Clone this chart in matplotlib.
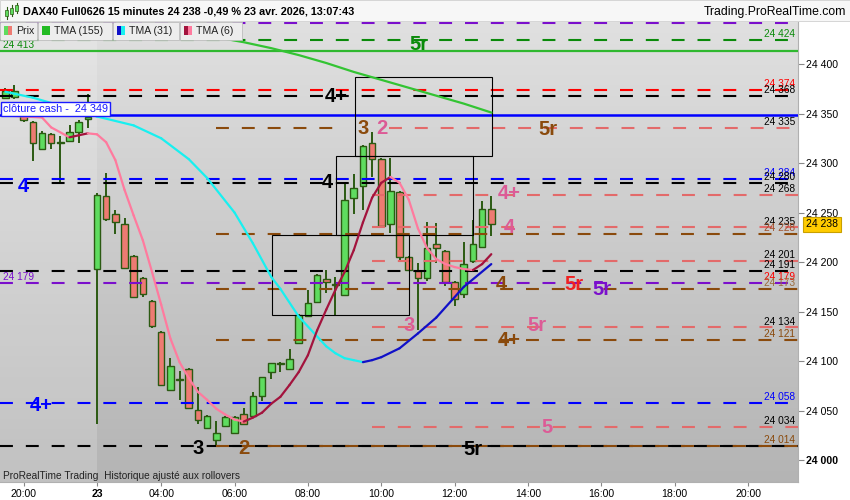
import numpy as np
import matplotlib.pyplot as plt
from matplotlib.patches import Rectangle
from matplotlib.colors import LinearSegmentedColormap

plt.rcParams['font.family'] = ['Liberation Sans', 'DejaVu Sans']

W, H = 850, 500

# bar index 0 = first 15 min bar of the 23rd
bar_idx = list(range(-10, 44))
opens = [24366, 24367, 24348, 24341, 24314, 24329, 24320, 24322, 24331, 24344,
         24193, 24267, 24249, 24238, 24206, 24184, 24161, 24129, 24071, 24081,
         24092, 24051, 24033, 24020, 24035, 24027, 24047, 24045, 24065, 24089,
         24098, 24092, 24118, 24146, 24160, 24183, 24177, 24167, 24265, 24277,
         24320, 24304, 24238, 24271, 24205, 24191, 24184, 24218, 24211, 24180,
         24168, 24201, 24215, 24254]
highs = [24376, 24379, 24349, 24342, 24332, 24330, 24327, 24338, 24343, 24370,
         24270, 24290, 24253, 24245, 24207, 24185, 24162, 24130, 24103, 24090,
         24093, 24074, 24046, 24040, 24045, 24045, 24053, 24069, 24084, 24098,
         24099, 24112, 24148, 24172, 24188, 24192, 24185, 24281, 24289, 24318,
         24331, 24305, 24305, 24272, 24206, 24199, 24240, 24239, 24212, 24181,
         24220, 24243, 24262, 24267]
lows = [24365, 24365, 24341, 24302, 24313, 24314, 24279, 24321, 24320, 24335,
        24037, 24241, 24228, 24193, 24164, 24165, 24133, 24075, 24070, 24061,
        24052, 24037, 24032, 24013, 24034, 24026, 24036, 24044, 24060, 24082,
        24089, 24091, 24117, 24145, 24159, 24169, 24147, 24166, 24249, 24253,
        24286, 24235, 24229, 24200, 24191, 24131, 24181, 24199, 24176, 24156,
        24164, 24199, 24214, 24226]
closes = [24373, 24373, 24343, 24320, 24330, 24320, 24321, 24331, 24341, 24346,
          24268, 24244, 24240, 24194, 24165, 24168, 24135, 24076, 24095, 24082,
          24053, 24041, 24045, 24027, 24044, 24044, 24037, 24065, 24084, 24098,
          24097, 24102, 24147, 24159, 24187, 24180, 24178, 24263, 24275, 24317,
          24304, 24236, 24272, 24205, 24192, 24184, 24214, 24214, 24180, 24163,
          24198, 24218, 24254, 24238]

tma155_idx = [10, 13, 16, 19, 22, 25, 28, 31, 34, 37, 40, 43]
tma155_val = [24433, 24427, 24422, 24416, 24409, 24401, 24392, 24384, 24376, 24368, 24360, 24351]

tma31_idx = [-10, -7, -4, 0, 4, 7, 10, 12, 15, 17, 19, 20, 22, 25, 26, 27, 28, 29, 30, 31,
             33, 35, 37, 40, 43]
tma31_val = [24372, 24366, 24358, 24347, 24338, 24325, 24304, 24285, 24250, 24219, 24185,
             24173, 24145, 24115, 24108, 24103, 24101, 24099, 24101, 24104, 24113, 24128,
             24144, 24175, 24198]

tma6_idx = [-10, -6, -5, -3, -2, -1] + list(range(0, 44))
tma6_val = [24348, 24346, 24336, 24326, 24328, 24330,
            24329, 24321, 24303, 24273, 24247, 24222, 24190, 24157, 24123, 24099,
            24083, 24069, 24061, 24052, 24046, 24041, 24039, 24043, 24048, 24057,
            24064, 24076, 24089, 24106, 24131, 24152, 24172, 24190, 24212, 24240,
            24265, 24280, 24286, 24280, 24263, 24234, 24214, 24203, 24198, 24195,
            24193, 24192, 24198, 24208]

cash_close = 24349
green_close = 24413
last_price = 24238

# dashed levels: value, colour, first bar
SALMON = '#e36a6a'
PINK = '#dc5b96'
BROWN = '#8a4a0c'
PURPLE = '#7b0fcc'
DGREEN = '#0a8a0a'
lvl_val = [24441, 24424, 24374, 24368, 24335, 24335, 24284, 24280, 24268, 24235,
           24228, 24201, 24191, 24179, 24173, 24134, 24121, 24058, 24034, 24014]
lvl_col = [PURPLE, DGREEN, 'red', 'black', BROWN, SALMON, 'blue', 'black', SALMON, SALMON,
           BROWN, SALMON, 'black', PURPLE, BROWN, SALMON, BROWN, 'blue', SALMON, 'black']
lvl_from = [-10.6, -10.6, -10.6, -10.6, 13, 31.8, -10.6, -10.6, 30, 30,
            13, 30, -10.6, -10.6, 13, 30, 13, -10.6, 30, -10.6]
lvl_to = [None, None, None, None, 27, None, None, None, None, None,
          None, None, None, None, None, None, None, None, None, None]

# boxes
box_from = [19.1, 26.1, 28.1]
box_to = [34.05, 41.05, 43.1]
box_lo = [24147, 24227, 24307]
box_hi = [24227, 24307, 24387]

# big level tags
tag_txt = ['5r', '4+', '3', '2', '5r', '4', '4', '4+', '4', '5r', '5r', '4', '3', '5r',
           '4+', '4+', '5', '3', '2', '5r']
tag_x = [35.1, 26.1, 29.0, 31.1, 49.2, -8.0, 25.1, 45.0, 45.0, 52.0, 55.1, 44.1, 34.0, 48.0,
         45.0, -6.1, 49.1, 11.0, 16.0, 41.0]
tag_y = [24422, 24369, 24337, 24337, 24336, 24278, 24282, 24271, 24237, 24179, 24174, 24179,
         24138, 24138, 24123, 24057, 24035, 24014, 24014, 24013]
tag_col = [DGREEN, 'black', BROWN, PINK, BROWN, 'blue', 'black', PINK, PINK, '#f02020',
           PURPLE, BROWN, PINK, PINK, BROWN, 'blue', PINK, 'black', BROWN, 'black']

# small value labels at the right edge of the plot
val_txt = ['24 424', '24 374', '24 368', '24 335', '24 284', '24 280', '24 268', '24 235',
           '24 228', '24 201', '24 191', '24 179', '24 173', '24 134', '24 121', '24 058',
           '24 034', '24 014']
val_y = [24424, 24374, 24368, 24335, 24284, 24280, 24268, 24235, 24228, 24201, 24191,
         24179, 24173, 24134, 24121, 24058, 24034, 24014]
val_col = [DGREEN, 'red', 'black', 'black', 'blue', 'black', 'black', 'black', '#a0522d',
           'black', 'black', 'red', '#9a6a3a', 'black', BROWN, 'blue', 'black', BROWN]

tick_pos = [-8, 0, 7, 15, 23, 31, 39, 47, 55, 63, 71]
tick_lab = ['20:00', '23', '04:00', '06:00', '08:00', '10:00', '12:00', '14:00',
            '16:00', '18:00', '20:00']
ytick_vals = [24000, 24050, 24100, 24150, 24200, 24250, 24300, 24350, 24400]

X0, X1 = -10.58, 76.45
Y0, Y1 = 23978, 24442.4


def fmt(v):
    return '%d %03d' % (v // 1000, v % 1000)


fig = plt.figure(figsize=(8.5, 5), dpi=100)
fig.patch.set_facecolor('white')
ax = fig.add_axes([0, 18 / 500, 798 / 850, 460 / 500])
ax.set_xlim(X0, X1)
ax.set_ylim(Y0, Y1)

# background gradient + lighter previous session
cmap = LinearSegmentedColormap.from_list('bg', ['#e0e0e0', '#b4b4b4'])
ax.imshow(np.linspace(0, 1, 256).reshape(-1, 1), cmap=cmap, aspect='auto',
          extent=[X0, X1, Y0, Y1], zorder=0, interpolation='bilinear')
ax.axvspan(X0, -0.05, color='white', alpha=0.18, lw=0, zorder=0.5)

# candles
o = np.array(opens)
c = np.array(closes)
x = np.array(bar_idx)
up = c >= o
ax.vlines(x, lows, highs, color='#2b5a12', lw=1.4, zorder=2)
ax.bar(x, np.maximum(np.abs(c - o), 0.8), bottom=np.minimum(o, c), width=0.72,
       color=np.where(up, '#5fdc5f', '#ee7b72'), edgecolor='#2b5a12', lw=1.0, zorder=2.5)

# levels
dash = (0, (6.2, 6.2))
for v, col, a, b in zip(lvl_val, lvl_col, lvl_from, lvl_to):
    ax.plot([a, X1 if b is None else b], [v, v], color=col, lw=1.5, ls=dash, zorder=3)
ax.plot([13, X1], [24014, 24014], color=BROWN, gapcolor='black', lw=1.5, ls=dash, zorder=3.1)
ax.axhline(green_close, color='#2fb82f', lw=1.6, zorder=3)
ax.axhline(cash_close, color='#0000ff', lw=1.8, zorder=3)

for a, b, lo, hi in zip(box_from, box_to, box_lo, box_hi):
    ax.add_patch(Rectangle((a, lo), b - a, hi - lo, fill=False, ec='black', lw=0.8, zorder=3.5))


def two_tone(xs, ys, c_dn, c_up, lw=1.6):
    for k in range(len(xs) - 1):
        col = c_up if ys[k + 1] >= ys[k] else c_dn
        ax.plot(xs[k:k + 2], ys[k:k + 2], color=col, lw=lw, solid_capstyle='round', zorder=4)


ax.plot(tma155_idx, tma155_val, color='#33c433', lw=1.6, zorder=4)
two_tone(tma31_idx, tma31_val, '#18f0f0', '#1010c8')
two_tone(tma6_idx, tma6_val, '#ff7a9e', '#a3133d')

for t, tx, ty, col in zip(tag_txt, tag_x, tag_y, tag_col):
    ax.text(tx, ty, t, ha='center', va='center_baseline', fontsize=14.5, fontweight='bold',
            color=col, zorder=5)

for t, ty, col in zip(val_txt, val_y, val_col):
    ax.text(76.1, ty + 7, t, ha='right', va='center_baseline', fontsize=7.3, color=col, zorder=5)
ax.text(-10.3, green_close + 7, fmt(green_close), ha='left', va='center_baseline',
        fontsize=7.3, color=DGREEN, zorder=5)
ax.text(-10.3, 24179 + 7, fmt(24179), ha='left', va='center_baseline',
        fontsize=7.3, color=PURPLE, zorder=5)

# axes
ax.yaxis.tick_right()
ax.set_yticks(ytick_vals)
ax.set_yticklabels([fmt(v) for v in ytick_vals])
ax.get_yticklabels()[0].set_fontweight('bold')
ax.set_xticks(tick_pos)
ax.set_xticklabels(tick_lab)
ax.get_xticklabels()[1].set_fontweight('bold')
ax.tick_params(axis='y', length=4, width=0.8, color='#888888', pad=2, labelsize=7.6)
ax.tick_params(axis='x', length=3, width=0.8, color='#888888', pad=2, labelsize=7.6)
for s in ['top', 'left']:
    ax.spines[s].set_visible(False)
for s in ['right', 'bottom']:
    ax.spines[s].set_color('#b0b0b0')
    ax.spines[s].set_linewidth(0.8)

ax.text(1 + 8 / 798, last_price, fmt(last_price), transform=ax.get_yaxis_transform(),
        ha='left', va='center', fontsize=7.5, zorder=6, clip_on=False,
        bbox=dict(boxstyle='square,pad=0.25', fc='#ffcc00', ec='#c9a000', lw=0.8))


def fx(px):
    return px / W


def fy(py):
    return 1 - py / H


def frect(x0, y0, x1, y1, **kw):
    fig.add_artist(Rectangle((fx(x0), fy(y1)), (x1 - x0) / W, (y1 - y0) / H,
                             transform=fig.transFigure, **kw))


# header
frect(0, 0, 850, 21, fc='#f7f7f7', ec='#cfcfcf', lw=0.6, zorder=8)
for (a, b0, b1, w0, w1) in [(5, 10, 16, 7, 19), (10, 8, 14, 5, 16), (15, 5, 11, 3, 13)]:
    fig.add_artist(plt.Line2D([fx(a + 1.5)] * 2, [fy(w1), fy(w0)], transform=fig.transFigure,
                              color='#2b5a12', lw=0.8, zorder=9))
    frect(a, b0, a + 3, b1, fc='#5fdc5f', ec='#2b5a12', lw=0.5, zorder=9)
fig.text(fx(23), fy(11), 'DAX40 Full0626 15 minutes 24 238 -0,49 % 23 avr. 2026, 13:07:43',
         fontsize=7.8, fontweight='bold', va='center', ha='left', zorder=9)
fig.text(fx(846), fy(12), 'Trading.ProRealTime.com', fontsize=8.8, va='center', ha='right',
         zorder=9)

# legend row
leg = [(0, 37, 'Prix', '#5fdc5f', '#ee7b72'),
       (38, 112, 'TMA (155)', '#22bb22', '#22bb22'),
       (113, 179, 'TMA (31)', '#1010c8', '#18f0f0'),
       (180, 242, 'TMA (6)', '#a3133d', '#ff7a9e')]
for a, b, name, c1, c2 in leg:
    frect(a, 22, b, 40, fc='#ededed', ec='#bdbdbd', lw=0.6, zorder=8)
    frect(a + 4, 26, a + 8, 35, fc=c1, ec='none', zorder=9)
    frect(a + 8, 26, a + 12, 35, fc=c2, ec='none', zorder=9)
    fig.text(fx(a + 16), fy(31), name, fontsize=7.6, va='center', ha='left', color='#222222',
             zorder=9)

fig.text(fx(3), fy(109), 'clôture cash -  24 349', fontsize=7.8, color='#1a1aff', va='center',
         ha='left', zorder=9,
         bbox=dict(boxstyle='square,pad=0.2', fc='white', ec='#1a1aff', lw=1.0))
fig.text(fx(3), fy(476), 'ProRealTime Trading  Historique ajusté aux rollovers', fontsize=7.3,
         color='#222222', va='center', ha='left', zorder=9)

fig.savefig('out.png', dpi=100)
